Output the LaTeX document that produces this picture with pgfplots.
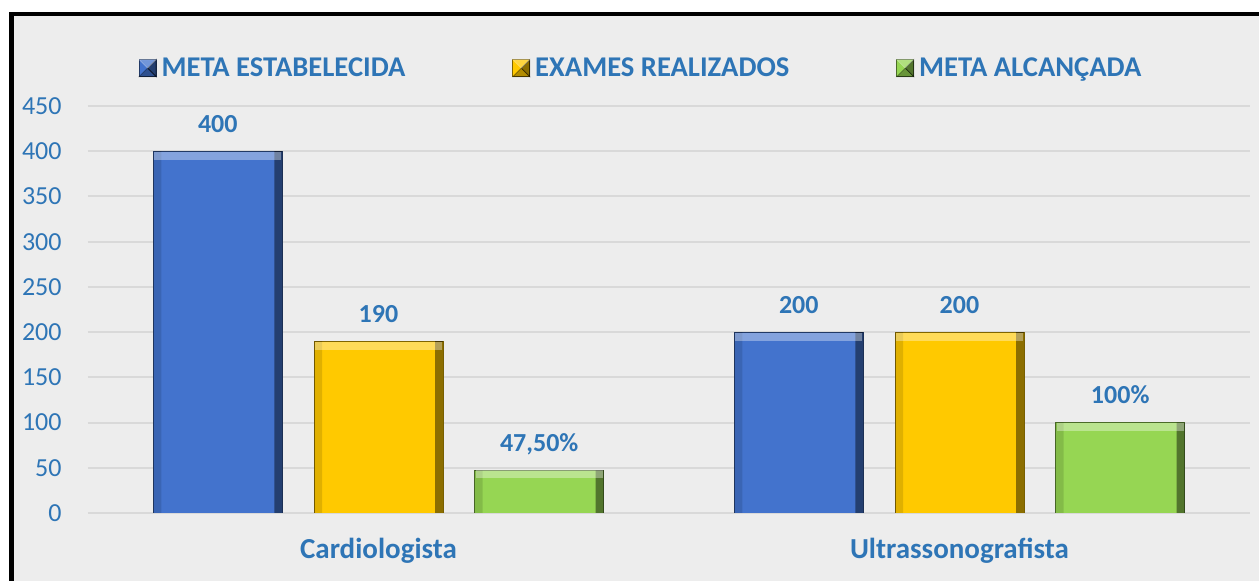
\documentclass[border=0pt]{standalone}
\usepackage{pgfplots}
\usepackage{pgfplotstable}
\pgfplotsset{compat=1.18}
\usepackage{fontspec}
\setmainfont{Carlito}
\definecolor{bgc}{HTML}{EDEDED}
\definecolor{gridc}{HTML}{D9D9D9}
\definecolor{tblue}{HTML}{2E75B6}
\definecolor{bblue}{HTML}{4373CD}
\definecolor{byel}{HTML}{FFC900}
\definecolor{bgreen}{HTML}{96D653}
\pgfplotstableread{
x v lab
0 400 400
1 200 200
}\meta
\pgfplotstableread{
x v lab
0 190 190
1 200 200
}\exames
\pgfplotstableread{
x v lab
0 47.5 {47,50\%}
1 100 100\%
}\alcan
\pgfplotsset{
  mainbar/.style={ybar, bar shift=0pt, fill=#1, draw=#1!50!black, line width=0.4pt,
    nodes near coords, point meta=explicit symbolic,
    nodes near coords style={font=\bfseries\fontsize{13}{15}\selectfont, text=tblue, anchor=base, inner sep=0pt, yshift=9.5pt}},
  edgebar/.style 2 args={ybar, forget plot, bar width=4pt, bar shift=#1, fill=black, fill opacity=#2, draw=none},
  topband/.style={ybar, forget plot, bar shift=0pt, fill=none, draw=none,
    nodes near coords={},
    every node near coord/.style={anchor=north, minimum width=63.5pt, minimum height=4pt, inner sep=0pt, fill=white, fill opacity=0.35, draw=none}},
}
\def\off{0.27663}
\begin{document}
\begin{tikzpicture}
\fill[white] (-44pt,-34pt) rectangle (585.5pt,256.5pt);
\fill[black] (-39.25pt,-34pt) rectangle (585.5pt,250.5pt);
\fill[bgc] (-36.75pt,-34pt) rectangle (585.5pt,248.25pt);
\begin{axis}[
  scale only axis,
  width=581pt, height=203.5pt,
  at={(0,0)}, anchor=south west,
  xmin=-0.5, xmax=1.5, ymin=0, ymax=450,
  ytick={0,50,...,450},
  xtick={0,1},
  xticklabels={Cardiologista,Ultrassonografista},
  axis line style={draw=none},
  major tick length=0pt,
  ymajorgrids,
  grid style={gridc, line width=1pt},
  /pgf/number format/assume math mode=true,
  yticklabel style={font=\fontsize{13}{15}\selectfont, text=tblue, inner sep=0pt, xshift=-13pt},
  xticklabel style={font=\bfseries\fontsize{14.5}{17}\selectfont, text=tblue, inner sep=0pt, anchor=base, yshift=-23pt},
  bar width=64.5pt,
  legend columns=3,
  legend style={at={(0.4768,1.093)}, anchor=center, draw=none, fill=none,
    font=\bfseries\fontsize{14.3}{17}\selectfont, text=tblue,
    /tikz/every odd column/.append style={column sep=0.5pt},
    /tikz/every even column/.append style={column sep=51.5pt}},
  legend image code/.code={
    \fill[#1] (0pt,-4.25pt) rectangle (8.5pt,4.25pt);
    \fill[black,opacity=0.45] (8.5pt,4.25pt) -- (4.25pt,0pt) -- (8.5pt,-4.25pt) -- cycle;
    \fill[black,opacity=0.3] (0pt,-4.25pt) -- (4.25pt,0pt) -- (8.5pt,-4.25pt) -- cycle;
    \fill[white,opacity=0.25] (0pt,4.25pt) -- (4.25pt,0pt) -- (8.5pt,4.25pt) -- cycle;},
]
% META ESTABELECIDA
\addplot[mainbar=bblue] table[x expr=\thisrow{x}-\off, y=v, meta=lab] {\meta};
\addlegendentry{META ESTABELECIDA}
\addplot[edgebar={30.25pt}{0.45}] table[x expr=\thisrow{x}-\off, y=v] {\meta};
\addplot[edgebar={-30.25pt}{0.12}] table[x expr=\thisrow{x}-\off, y=v] {\meta};
\addplot[topband] table[x expr=\thisrow{x}-\off, y=v] {\meta};
% EXAMES REALIZADOS
\addplot[mainbar=byel] table[x=x, y=v, meta=lab] {\exames};
\addlegendentry{EXAMES REALIZADOS}
\addplot[edgebar={30.25pt}{0.45}] table[x=x, y=v] {\exames};
\addplot[edgebar={-30.25pt}{0.12}] table[x=x, y=v] {\exames};
\addplot[topband] table[x=x, y=v] {\exames};
% META ALCANCADA
\addplot[mainbar=bgreen] table[x expr=\thisrow{x}+\off, y=v, meta=lab] {\alcan};
\addlegendentry{META ALCANÇADA}
\addplot[edgebar={30.25pt}{0.45}] table[x expr=\thisrow{x}+\off, y=v] {\alcan};
\addplot[edgebar={-30.25pt}{0.12}] table[x expr=\thisrow{x}+\off, y=v] {\alcan};
\addplot[topband] table[x expr=\thisrow{x}+\off, y=v] {\alcan};
\end{axis}
\pgfresetboundingbox
\useasboundingbox (-44pt,-34pt) rectangle (585.5pt,256.5pt);
\end{tikzpicture}
\end{document}
